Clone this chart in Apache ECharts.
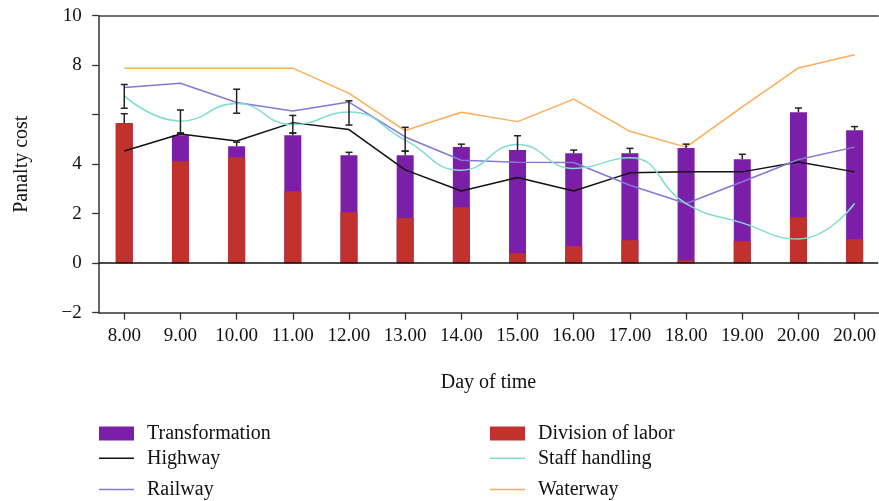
<!DOCTYPE html>
<html>
<head>
<meta charset="utf-8">
<script src="https://cdn.jsdelivr.net/npm/echarts@6/dist/echarts.min.js"></script>
<style>html,body{margin:0;padding:0;background:#fff}#c{width:879px;height:501px}</style>
</head>
<body>
<div id="c"></div>
<script>
const categories = ['8.00','9.00','10.00','11.00','12.00','13.00','14.00','15.00','16.00','17.00','18.00','19.00','20.00','20.00'];
const yTickLabels = ['\u22122','0','2','4','','8','10'];
const divisionOfLabor = [5.66, 4.12, 4.28, 2.91, 2.06, 1.82, 2.26, 0.40, 0.69, 0.93, 0.12, 0.89, 1.86, 0.97];
const transformation = [0.00, 1.05, 0.45, 2.26, 2.30, 2.54, 2.43, 4.17, 3.75, 3.51, 4.53, 3.31, 4.24, 4.40];
const barTopError = [0.38, 0.09, 0.16, 0.09, 0.12, 0.16, 0.12, 0.58, 0.13, 0.20, 0.16, 0.20, 0.17, 0.15];
const floatErrLow = [6.26, 5.26, 6.06, 5.26, 5.58, 4.53, null, null, null, null, null, null, null, null];
const floatErrHigh = [7.22, 6.19, 7.03, 5.97, 6.56, 5.49, null, null, null, null, null, null, null, null];
const highway = [4.53, 5.22, 4.94, 5.68, 5.40, 3.77, 2.92, 3.46, 2.92, 3.65, 3.69, 3.69, 4.09, 3.69];
const railway = [7.10, 7.27, 6.49, 6.15, 6.51, 5.10, 4.16, 4.08, 4.07, 3.15, 2.41, 3.29, 4.19, 4.69];
const staffHandling = [6.76, 5.74, 6.45, 5.60, 6.11, 4.97, 3.76, 4.80, 3.83, 4.26, 2.41, 1.63, 0.98, 2.41];
const waterway = [7.88, 7.88, 7.88, 7.88, 6.86, 5.36, 6.10, 5.72, 6.63, 5.33, 4.69, 6.32, 7.89, 8.42];

const FONT = '"Liberation Serif", "DejaVu Serif", serif';
const idx = categories.map((_, i) => i);
const pairs = arr => arr.map((v, i) => [i, v]);
const stackTop = idx.map(i => divisionOfLabor[i] + transformation[i]);

const errData = [];
idx.forEach(i => {
  errData.push([i, stackTop[i], stackTop[i] + barTopError[i], 0]);
  if (floatErrLow[i] != null) errData.push([i, floatErrLow[i], floatErrHigh[i], 1]);
});

const chart = echarts.init(document.getElementById('c'), null, {renderer: 'canvas'});

const LINE_ICON = 'path://M0,0 L70,0 L70,3 L0,3 Z';
function legendItem(name, left, centerY, icon) {
  return {
    orient: 'vertical', left: left, top: centerY - 10, padding: 0,
    itemWidth: 35, itemHeight: icon === 'rect' ? 14 : 1.5, selectedMode: false,
    data: [{name: name, icon: icon}],
    textStyle: {fontFamily: FONT, fontSize: 20, color: '#111', lineHeight: 20, padding: [0, 0, 0, 8]}
  };
}

const xMin = -0.455, xMax = 13.42;
const lineSeries = (name, data, color, smooth) => ({
  name: name, type: 'line', data: pairs(data), symbol: 'none', smooth: smooth || false,
  lineStyle: {color: color, width: 1.5}, itemStyle: {color: color}, z: 3
});

chart.setOption({
  animation: false,
  grid: {left: 98.7, right: 0, top: 15.7, bottom: 188.3, containLabel: false},
  legend: [
    legendItem('Transformation', 99, 433.4, 'rect'),
    legendItem('Highway', 99, 458.3, LINE_ICON),
    legendItem('Railway', 99, 489.5, LINE_ICON),
    legendItem('Division of labor', 490, 433.4, 'rect'),
    legendItem('Staff handling', 490, 458.3, LINE_ICON),
    legendItem('Waterway', 490, 489.5, LINE_ICON)
  ],
  xAxis: [{
    type: 'value', min: xMin, max: xMax,
    name: 'Day of time', nameLocation: 'middle', nameGap: 60,
    nameTextStyle: {fontFamily: FONT, fontSize: 20, color: '#111'},
    axisLine: {onZero: false, lineStyle: {color: '#333', width: 1.5}},
    axisTick: {show: true, length: 7, lineStyle: {color: '#333', width: 1.3}, customValues: idx},
    axisLabel: {customValues: idx, margin: 14, fontFamily: FONT, fontSize: 19, color: '#111',
      formatter: v => categories[Math.round(v)]},
    splitLine: {show: false}
  }, {
    type: 'value', min: xMin, max: xMax, position: 'top',
    axisLine: {onZero: false, lineStyle: {color: '#444', width: 1.5}},
    axisTick: {show: false}, axisLabel: {show: false}, splitLine: {show: false}
  }],
  yAxis: {
    type: 'value', min: -2, max: 10, interval: 2,
    name: 'Panalty cost', nameLocation: 'middle', nameGap: 67, nameRotate: 90,
    nameTextStyle: {fontFamily: FONT, fontSize: 20, color: '#111'},
    axisLine: {show: true, onZero: false, lineStyle: {color: '#333', width: 1.5}},
    axisTick: {show: true, length: 6.5, lineStyle: {color: '#333', width: 1.3}},
    axisLabel: {margin: 17, fontFamily: FONT, fontSize: 19, color: '#111',
      formatter: v => yTickLabels[Math.round((v + 2) / 2)]},
    splitLine: {show: false}
  },
  series: [
    {name: 'Transformation', type: 'bar', barWidth: 17, barGap: '-100%', data: pairs(stackTop),
      itemStyle: {color: '#7b1fa8'}, z: 2,
      markLine: {silent: true, symbol: 'none', label: {show: false},
        lineStyle: {color: '#111', width: 1.5, type: 'solid'}, data: [{yAxis: 0}]}},
    {name: 'Division of labor', type: 'bar', barWidth: 17, barGap: '-100%', data: pairs(divisionOfLabor),
      itemStyle: {color: '#c0322b'}, z: 2},
    lineSeries('Highway', highway, '#111111'),
    lineSeries('Railway', railway, '#8579d6'),
    lineSeries('Staff handling', staffHandling, '#80ddd0', 0.5),
    lineSeries('Waterway', waterway, '#ffad58'),
    {
      type: 'custom', z: 5, silent: true, data: errData,
      renderItem: function (params, api) {
        const x = api.value(0);
        const pLow = api.coord([x, api.value(1)]);
        const pHigh = api.coord([x, api.value(2)]);
        const both = api.value(3) === 1;
        const st = {stroke: '#222', lineWidth: 1.5};
        const ch = [
          {type: 'line', shape: {x1: pLow[0], y1: pLow[1], x2: pHigh[0], y2: pHigh[1]}, style: st},
          {type: 'line', shape: {x1: pHigh[0] - 3.5, y1: pHigh[1], x2: pHigh[0] + 3.5, y2: pHigh[1]}, style: st}
        ];
        if (both) ch.push({type: 'line', shape: {x1: pLow[0] - 3.5, y1: pLow[1], x2: pLow[0] + 3.5, y2: pLow[1]}, style: st});
        return {type: 'group', children: ch};
      }
    }
  ]
});
</script>
</body>
</html>
